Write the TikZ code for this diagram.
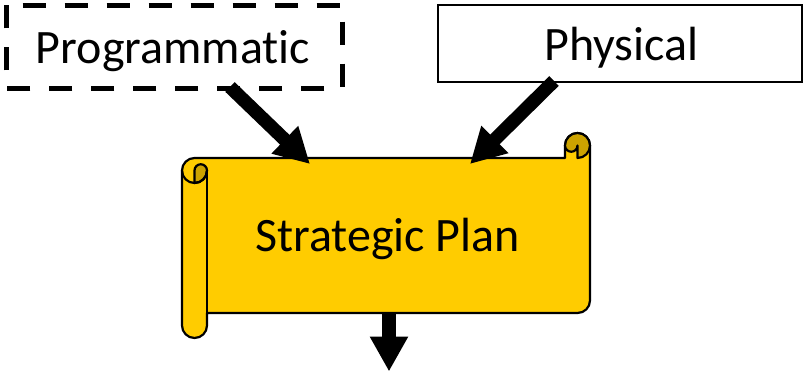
\documentclass[tikz,border=0pt]{standalone}
\usepackage{fontspec}
\setmainfont{Carlito}[Ligatures=NoCommon]
\usetikzlibrary{arrows.meta,calc}
\definecolor{scrollfill}{RGB}{255,204,0}
\definecolor{curlfill}{RGB}{204,163,0}
\begin{document}
\begin{tikzpicture}[x=1pt,y=-1pt,
  lbl/.style={font=\fontsize{48}{58}\selectfont, inner sep=0pt, anchor=base},
  boxnode/.style={inner sep=0pt,outer sep=0pt},
  bigarrow/.style={line width=13.5pt,-{Triangle[length=35pt,width=36pt]}},
  outline/.style={line width=2.2pt, line join=round}]
\useasboundingbox (0,0) rectangle (806,372);
\fill[white] (0,0) rectangle (806,372);

% scroll body
\filldraw[fill=scrollfill, outline] (182,170.5) arc[start angle=180,end angle=270,radius=12.5]
  -- (565,158) -- (565,145.5) arc[start angle=180,end angle=360,radius=12.5]
  -- (590,300.5) arc[start angle=0,end angle=90,radius=12.5]
  -- (207,313) -- (207,325.5) arc[start angle=0,end angle=180,radius=12.5] -- cycle;
% right curl
\filldraw[fill=curlfill, outline] (577.5,158) arc[start angle=90,end angle=-180,radius=12.5]
  arc[start angle=180,end angle=0,radius=6.25] -- cycle;
% left curl
\filldraw[fill=curlfill, outline] (194.5,183) arc[start angle=90,end angle=0,radius=12.5]
  arc[start angle=0,end angle=-180,radius=6.25] -- cycle;
\draw[outline] (207,170.5) arc[start angle=0,end angle=180,radius=12.5];
\draw[outline] (207,170.5) -- (207,313);

% boxes
\node[boxnode, minimum width=336pt, minimum height=83pt] (prog) at (174,46.5) {};
\draw[line width=5pt, dash pattern=on 23.5pt off 18.5pt, dash phase=25.3pt]
  (prog.north west) -- (prog.north east) -- (prog.south east) -- (prog.south west) -- cycle;
\node[boxnode, draw, line width=2pt, minimum width=364pt, minimum height=77pt] (phys) at (620,43.5) {};
\node[boxnode, minimum width=383pt, minimum height=155pt] (plan) at (398.5,235.5) {};

% labels
\node[lbl] (progt) at (173,63) {Programmatic};
\node[lbl] (physt) at (621.5,60) {Physical};
\node[lbl] (plant) at (387.5,251.7) {Strategic Plan};

% arrows
\coordinate (out) at (389,371.5);
\draw[bigarrow] ($(prog.south)+(56,-1)$) -- ($(plan.north)+(-88.5,6)$);
\draw[bigarrow] ($(phys.south)+(-66,-1)$) -- ($(plan.north)+(71.5,6)$);
\draw[bigarrow] ($(plan.south)+(-9.5,0)$) -- (out);
\end{tikzpicture}
\end{document}
